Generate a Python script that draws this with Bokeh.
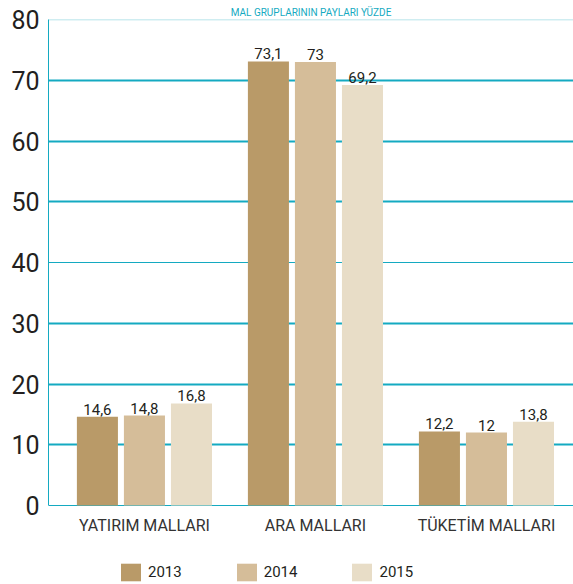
from bokeh.plotting import figure
from bokeh.models import (ColumnDataSource, Range1d, Legend, LegendItem, FixedTicker, LabelSet)
from bokeh.core.properties import value
from bokeh.transform import dodge
from bokeh.embed import file_html
from bokeh.resources import INLINE

title = "MAL GRUPLARININ PAYLARI YÜZDE"
categories = ["YATIRIM MALLARI", "ARA MALLARI", "TÜKETİM MALLARI"]
years = ["2013", "2014", "2015"]
v2013 = [14.6, 73.1, 12.2]
v2014 = [14.8, 73.0, 12.0]
v2015 = [16.8, 69.2, 13.8]
y_ticks = [0, 10, 20, 30, 40, 50, 60, 70, 80]

colors = ["#b99a68", "#d5bd99", "#e8ddc7"]
CYAN = "#14aac1"
FONT = "Roboto"

def fmt(v):
    s = ("%.1f" % v).rstrip("0").rstrip(".")
    return s.replace(".", ",")

xs = list(range(len(categories)))
src = ColumnDataSource(dict(
    x=xs, cat=categories, zero=[0] * len(xs),
    v2013=v2013, v2014=v2014, v2015=v2015,
    l2013=[fmt(v) for v in v2013], l2014=[fmt(v) for v in v2014], l2015=[fmt(v) for v in v2015],
))

# frame extends below zero to hold the category labels and the legend
p = figure(width=573, height=584, output_backend="svg", toolbar_location=None,
           x_range=Range1d(-0.561, 2.509), y_range=Range1d(-13.0, 80),
           min_border_left=48, min_border_right=0, min_border_top=19, min_border_bottom=0)
p.outline_line_color = None
p.xgrid.grid_line_color = None
p.ygrid.grid_line_color = None
p.xaxis.visible = False

p.title.text = title
p.title.text_font = FONT
p.title.text_font_size = "10px"
p.title.text_color = CYAN
p.title.align = "center"
p.title.standoff = 4
p.title.text_font_style = "normal"

# grid lines
widths = [1, 2, 2, 2, 1, 2, 2, 2, 1.5]
gcolors = [CYAN] * 8 + ["#9fdbe4"]
p.hspan(y=y_ticks, line_width=widths, line_color=gcolors)

off = 0.275
w = 0.24
renderers = []
for i, (yr, col) in enumerate(zip(years, colors)):
    d = (i - 1) * off
    r = p.vbar(x=dodge("x", d, range=p.x_range), top="v" + yr, width=w, bottom=0,
               source=src, fill_color=col, line_color=None)
    renderers.append(r)
    p.add_layout(LabelSet(x=dodge("x", d, range=p.x_range), y="v" + yr, text="l" + yr, source=src,
                          text_align="center", text_baseline="bottom", y_offset=2,
                          text_font=value(FONT), text_font_size="15px", text_color="#231f20"))

# category labels
p.add_layout(LabelSet(x="x", y="zero", text="cat", source=src, text_align="center",
                      text_baseline="top", y_offset=-10, text_font=value(FONT),
                      text_font_size="16px", text_color="#333333"))

# y axis
p.yaxis.bounds = (0, 80)
p.yaxis.ticker = FixedTicker(ticks=y_ticks)
p.yaxis.major_tick_line_color = None
p.yaxis.minor_tick_line_color = None
p.yaxis.axis_line_color = CYAN
p.yaxis.axis_line_width = 1
p.yaxis.major_label_standoff = 3
p.yaxis.major_label_text_font = FONT
p.yaxis.major_label_text_font_size = "25px"
p.yaxis.major_label_text_color = "#231f20"

legend = Legend(items=[LegendItem(label=yr, renderers=[r]) for yr, r in zip(years, renderers)],
                orientation="horizontal", location=(70, 1),
                glyph_width=25, glyph_height=22, label_standoff=5, spacing=52,
                label_text_font=FONT, label_text_font_size="15px", label_text_color="#231f20",
                border_line_color=None, background_fill_alpha=0, padding=0, margin=0,
                label_height=22)
p.add_layout(legend)

open("out.html", "w").write(file_html(p, INLINE))
